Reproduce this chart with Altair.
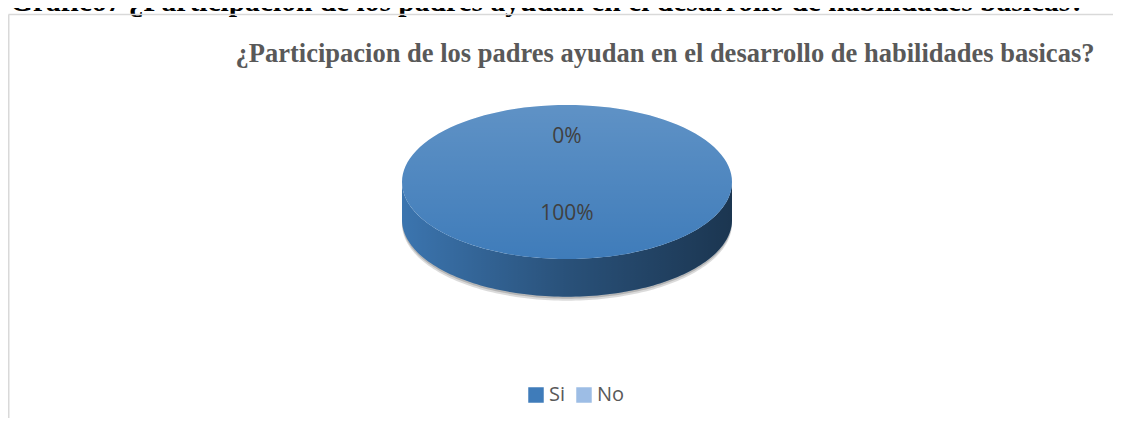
import altair as alt
import pandas as pd

# ---- data ----
categorias = ["Si", "No"]
valores = [100, 0]
colores = ["#3f7cba", "#9dbde5"]

encabezado = "Grafico7 ¿Participacion de los padres ayudan en el desarrollo de habilidades basicas?"
titulo = "¿Participacion de los padres ayudan en el desarrollo de habilidades basicas?"

df = pd.DataFrame({"cat": categorias, "value": valores})

W, H = 1105, 410
N = 120
DEPTH = 0.49

xs = alt.Scale(domain=[-1, 1], range=[394, 724])
ys = alt.Scale(domain=[-1, 1], range=[251, 97])
fill_scale = alt.Scale(domain=categorias, range=colores)

legend = alt.Legend(
    title=None, orient="none", direction="horizontal",
    legendX=518, legendY=377,
    symbolType="square", symbolSize=240, symbolStrokeWidth=0,
    labelFont="Open Sans", labelFontSize=20, labelColor="#595959",
    labelOffset=3, columnPadding=8,
)

base = alt.Chart(df).transform_joinaggregate(
    total="sum(value)"
).transform_window(
    cum="sum(value)", frame=[None, 0]
).transform_calculate(
    a0="2*PI*(datum.cum - datum.value)/datum.total",
    a1="2*PI*datum.cum/datum.total",
)

# top face wedges
top = base.transform_calculate(
    pts=f"sequence(0, {N + 2})"
).transform_flatten(["pts"]).transform_calculate(
    t=f"datum.a0 + (datum.a1 - datum.a0) * (datum.pts - 1) / {N}",
).transform_calculate(
    px="datum.pts == 0 ? 0 : sin(datum.t)",
    py="datum.pts == 0 ? 0 : cos(datum.t)",
)

# side wedges (front half only)
side = base.transform_calculate(
    s0="max(datum.a0, PI/2)",
    s1="min(datum.a1, 3*PI/2)",
).transform_filter("datum.s1 > datum.s0").transform_calculate(
    pts=f"sequence(0, {2 * N + 2})"
).transform_flatten(["pts"]).transform_calculate(
    j=f"datum.pts <= {N} ? datum.pts : {2 * N + 1} - datum.pts",
).transform_calculate(
    t=f"datum.s0 + (datum.s1 - datum.s0) * datum.j / {N}",
).transform_calculate(
    px="sin(datum.t)",
    py=f"datum.pts <= {N} ? cos(datum.t) : cos(datum.t) - {DEPTH}",
)

def geo(ch):
    return ch.encode(
        x=alt.X("px:Q", scale=xs, axis=None),
        y=alt.Y("py:Q", scale=ys, axis=None),
        order=alt.Order("pts:Q"),
        detail="cat:N",
    )

shadow1 = geo(side.mark_line(fill="#6f6f6f", strokeWidth=0, opacity=0.25, yOffset=4))
shadow2 = geo(side.mark_line(fill="#6f6f6f", strokeWidth=0, opacity=0.35, yOffset=2))

side_base = geo(side.mark_line(strokeWidth=0)).encode(
    fill=alt.Fill("cat:N", scale=fill_scale, sort=categorias, legend=legend)
)
side_over = geo(side.mark_line(
    strokeWidth=0,
    fill=alt.Gradient(
        gradient="linear", x1=0, x2=1, y1=0, y2=0,
        stops=[alt.GradientStop(color="rgba(0,0,0,0.06)", offset=0),
               alt.GradientStop(color="rgba(0,0,0,0.35)", offset=0.5),
               alt.GradientStop(color="rgba(0,0,0,0.57)", offset=1)],
    ),
))

top_base = geo(top.mark_line(strokeWidth=0)).encode(
    fill=alt.Fill("cat:N", scale=fill_scale, sort=categorias, legend=legend)
)
top_over = geo(top.mark_line(
    strokeWidth=0,
    fill=alt.Gradient(
        gradient="linear", x1=0, x2=0, y1=0, y2=1,
        stops=[alt.GradientStop(color="rgba(255,255,255,0.17)", offset=0),
               alt.GradientStop(color="rgba(255,255,255,0.0)", offset=1)],
    ),
))

labels = base.transform_calculate(
    m="(datum.a0 + datum.a1)/2",
).transform_calculate(
    lx="0.5*sin(datum.m)",
    ly="0.5*cos(datum.m)",
    txt="format(datum.value/datum.total, '.0%')",
).mark_text(
    font="Open Sans", fontSize=21, color="#404040", dy=-7, baseline="middle"
).encode(
    x=alt.X("lx:Q", scale=xs, axis=None),
    y=alt.Y("ly:Q", scale=ys, axis=None),
    text="txt:N",
)

header = alt.Chart(pd.DataFrame({"t": [encabezado]})).mark_text(
    font="Liberation Serif", fontWeight="bold", fontSize=29.5, color="#000000",
    align="left", baseline="alphabetic",
).encode(x=alt.value(2), y=alt.value(3), text="t:N")

title = alt.Chart(pd.DataFrame({"t": [titulo]})).mark_text(
    font="Liberation Serif", fontWeight="bold", fontSize=26.5, color="#595959",
    align="center", baseline="alphabetic",
).encode(x=alt.value(657), y=alt.value(54), text="t:N")

border_top = alt.Chart(pd.DataFrame({"a": [0]})).mark_rule(
    color="#d9d9d9", strokeWidth=1.5
).encode(x=alt.value(0.5), x2=alt.value(W), y=alt.value(6.5))
border_left = alt.Chart(pd.DataFrame({"a": [0]})).mark_rule(
    color="#d9d9d9", strokeWidth=1.5
).encode(x=alt.value(0.75), y=alt.value(6.5), y2=alt.value(H))

chart = alt.layer(
    shadow1, shadow2, side_base, side_over, top_base, top_over,
    labels, header, title, border_top, border_left,
).properties(
    width=W, height=H, padding=0, autosize=alt.AutoSizeParams(type="none"),
).configure_view(stroke=None)

chart.save("out.html", embed_options={"renderer": "svg", "actions": False})
